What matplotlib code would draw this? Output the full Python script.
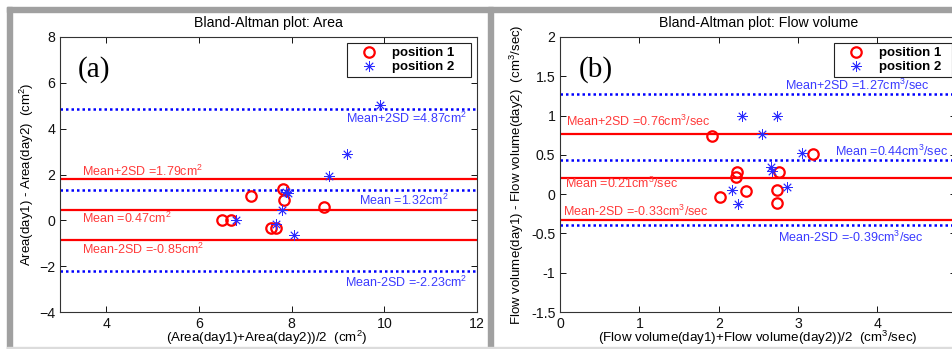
import matplotlib
matplotlib.use('Agg')
import matplotlib.pyplot as plt
from matplotlib.patches import Rectangle
from matplotlib.lines import Line2D

plt.rcParams['font.family'] = ['Liberation Sans', 'DejaVu Sans']
plt.rcParams['mathtext.default'] = 'regular'

# ---- data: panel (a) area ----
area_p1_x = [6.49, 6.68, 7.12, 7.55, 7.66, 7.81, 7.84, 8.70]
area_p1_y = [0.0, 0.0, 1.06, -0.35, -0.35, 1.36, 0.89, 0.57]
area_p2_x = [9.90, 9.20, 8.80, 7.88, 7.93, 7.80, 6.80, 7.66, 8.05]
area_p2_y = [5.03, 2.91, 1.95, 1.25, 1.18, 0.47, 0.0, -0.15, -0.63]
area_p1_lines = [1.79, 0.47, -0.85]
area_p2_lines = [4.87, 1.32, -2.23]

# ---- data: panel (b) flow volume ----
flow_p1_x = [1.92, 3.19, 2.23, 2.22, 2.76, 2.02, 2.35, 2.74, 2.74]
flow_p1_y = [0.74, 0.51, 0.28, 0.22, 0.28, -0.04, 0.04, 0.05, -0.11]
flow_p2_x = [2.30, 2.73, 2.55, 3.05, 2.66, 2.67, 2.86, 2.17, 2.24]
flow_p2_y = [1.00, 1.00, 0.77, 0.52, 0.35, 0.29, 0.09, 0.05, -0.13]
flow_p1_lines = [0.76, 0.21, -0.33]
flow_p2_lines = [1.27, 0.44, -0.39]

W, H = 953, 349
fig = plt.figure(figsize=(W / 100, H / 100), dpi=100)

RED = '#ff0000'
BLUE = '#0000ff'
RED_T = '#ff3a3a'
BLUE_T = '#3a3aff'


def px(x0, y0, x1, y1):
    # pixel box -> figure fraction rect
    return [x0 / W, 1 - y1 / H, (x1 - x0) / W, (y1 - y0) / H]


def style_axes(ax):
    ax.tick_params(direction='in', length=4, width=0.7, top=True, right=True,
                   labelsize=10.2, pad=3.5, colors='#111111')
    for s in ax.spines.values():
        s.set_color('#333333')
        s.set_linewidth(0.8)


def draw_panel(ax, p1x, p1y, p2x, p2y, l1, l2):
    for v in l1:
        ax.axhline(v, color=RED, lw=1.6, zorder=2)
    for v in l2:
        ax.axhline(v, color=BLUE, lw=1.8, ls=(0, (1, 1.2)), zorder=2)
    ax.plot(p1x, p1y, 'o', ls='none', mfc='none', mec=RED, ms=7.5, mew=1.6,
            zorder=3)
    ax.plot(p2x, p2y, ls='none', marker=(8, 2, 0), mec='#2a2aff', ms=7.5,
            mew=0.6, zorder=4)


def add_legend(ax, box):
    h = [Line2D([], [], ls='none', marker='o', mfc='none', mec=RED, ms=7.5, mew=1.6),
         Line2D([], [], ls='none', marker=(8, 2, 0), mec='#2a2aff', ms=7.5, mew=0.6)]
    leg = ax.legend(h, ['position 1', 'position 2'], loc='upper left',
                    bbox_to_anchor=box, bbox_transform=fig.transFigure,
                    mode='expand', borderaxespad=0, borderpad=0.3,
                    handlelength=2.8, handletextpad=0.3, labelspacing=0.15,
                    fancybox=False, framealpha=1, edgecolor='#222222',
                    prop={'size': 9.5, 'weight': 'bold'})
    leg.get_frame().set_linewidth(0.8)


# ---- panel (a) ----
ax1 = fig.add_axes(px(60, 37, 477, 312))
draw_panel(ax1, area_p1_x, area_p1_y, area_p2_x, area_p2_y,
           area_p1_lines, area_p2_lines)
ax1.set_xlim(3, 12)
ax1.set_ylim(-4, 8)
ax1.set_xticks([4, 6, 8, 10, 12])
ax1.set_yticks([-4, -2, 0, 2, 4, 6, 8])
style_axes(ax1)
ax1.set_title('Bland-Altman plot: Area', fontsize=10.2, pad=7)
ax1.set_xlabel('(Area(day1)+Area(day2))/2  (cm$^2$)', fontsize=9.6, va='center')
ax1.xaxis.set_label_coords(0.496, -0.095)
ax1.set_ylabel('Area(day1) - Area(day2)  (cm$^2$)', fontsize=9.5, va='center')
ax1.yaxis.set_label_coords(-0.079, 0.5)
ax1.text(3.39, 6.27, '(a)', family='Liberation Serif', fontsize=21, va='baseline')
for y, s in zip([1.95, -0.13, -1.48], ['Mean+2SD =1.79cm$^2$', 'Mean =0.47cm$^2$',
                                      'Mean-2SD =-0.85cm$^2$']):
    ax1.text(3.47, y, s, color=RED_T, fontsize=9, va='baseline')
for x, y, s in zip([11.78, 11.38, 11.78], [4.23, 0.67, -2.89],
                   ['Mean+2SD =4.87cm$^2$', 'Mean =1.32cm$^2$',
                    'Mean-2SD =-2.23cm$^2$']):
    ax1.text(x, y, s, color=BLUE_T, fontsize=9, ha='right', va='baseline')
add_legend(ax1, px(347, 43, 471, 75))

# ---- panel (b) ----
ax2 = fig.add_axes(px(560.3, 37, 956.3, 312))
draw_panel(ax2, flow_p1_x, flow_p1_y, flow_p2_x, flow_p2_y,
           flow_p1_lines, flow_p2_lines)
ax2.set_xlim(0, 5)
ax2.set_ylim(-1.5, 2)
ax2.set_xticks([0, 1, 2, 3, 4])
ax2.set_yticks([-1.5, -1, -0.5, 0, 0.5, 1, 1.5, 2])
ax2.set_yticklabels(['-1.5', '-1', '-0.5', '0', '0.5', '1', '1.5', '2'])
style_axes(ax2)
ax2.set_title('Bland-Altman plot: Flow volume', fontsize=10.2, pad=7)
ax2.set_xlabel('(Flow volume(day1)+Flow volume(day2))/2  (cm$^3$/sec)',
               fontsize=9.6, va='center')
ax2.xaxis.set_label_coords(0.4985, -0.095)
ax2.set_ylabel('Flow volume(day1) - Flow volume(day2)  (cm$^3$/sec)',
               fontsize=9.5, va='center')
ax2.yaxis.set_label_coords(-0.110, 0.5)
ax2.text(0.227, 1.5, '(b)', family='Liberation Serif', fontsize=21, va='baseline')
for x, y, s in zip([0.07, 0.06, 0.03], [0.863, 0.078, -0.283],
                   ['Mean+2SD =0.76cm$^3$/sec', 'Mean =0.21cm$^3$/sec',
                    'Mean-2SD =-0.33cm$^3$/sec']):
    ax2.text(x, y, s, color=RED_T, fontsize=9, va='baseline')
for x, y, s in zip([4.657, 4.90, 4.585], [1.32, 0.481, -0.61],
                   ['Mean+2SD =1.27cm$^3$/sec', 'Mean =0.44cm$^3$/sec',
                    'Mean-2SD =-0.39cm$^3$/sec']):
    ax2.text(x, y, s, color=BLUE_T, fontsize=9, ha='right', va='baseline')
add_legend(ax2, px(834, 43, 952, 75))

# ---- grey window frame ----
GREY = '#a0a0a0'
for r in [px(7, 7, W, 12), px(7, 7, 12, H), px(488, 7, 493, H)]:
    fig.patches.append(Rectangle((r[0], r[1]), r[2], r[3], transform=fig.transFigure,
                                 color=GREY, zorder=10))
r = px(7, 347, W, 348)
fig.patches.append(Rectangle((r[0], r[1]), r[2], r[3], transform=fig.transFigure,
                             color='#dcdcdc', zorder=10))

fig.savefig('out.png', dpi=100)
